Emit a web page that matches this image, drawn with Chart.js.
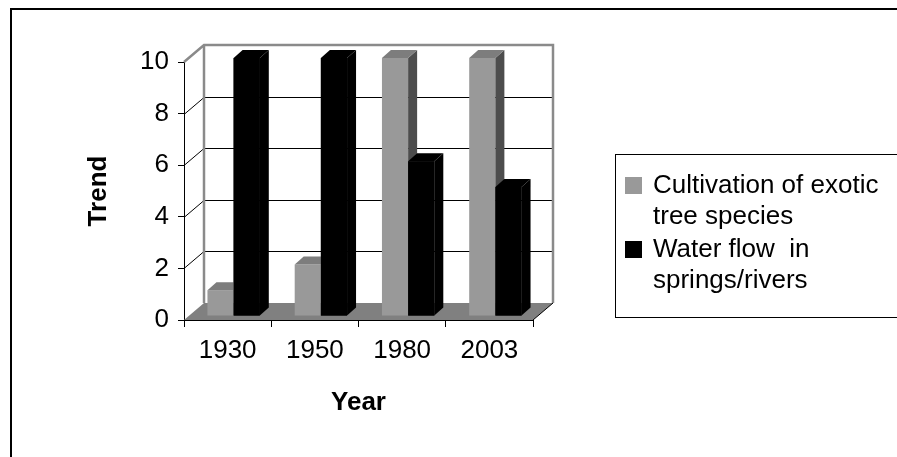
<!DOCTYPE html>
<html>
<head>
<meta charset="utf-8">
<script src="https://cdn.jsdelivr.net/npm/chart.js@4/dist/chart.umd.min.js"></script>
<style>
    body { margin: 0; background: #fff; }
    #wrap { position: relative; width: 897px; height: 457px; overflow: hidden; }
    #frame { position: absolute; left: 10px; top: 8px; width: 1000px; height: 600px; border: 2px solid #000; box-sizing: border-box; }
    canvas { position: absolute; left: 0; top: 0; }
</style>
</head>
<body>
<div id="wrap">
    <div id="frame"></div>
    <canvas id="trendChart" width="897" height="457"></canvas>
</div>
<script>
const years = ['1930', '1950', '1980', '2003'];
const exoticTrees = [1, 2, 10, 10];
const waterFlow = [10, 10, 6, 5];
const exoticLabel = ['Cultivation of exotic', 'tree species'];
const waterLabel = ['Water flow  in', 'springs/rivers'];
const yMax = 10;
const yStep = 2;

// 3D look (pixel offsets of the fake perspective)
const WALL_DX = 20, WALL_DY = -17;
const BAR_DX = 6, BAR_DY = -4;
const FACE_DX = 9, FACE_DY = -8;
const FONT = '"Liberation Sans", Arial, sans-serif';

function drawFaces(ctx, meta, ds) {
    meta.data.forEach(bar => {
        const { x, y, base, width } = bar.getProps(['x', 'y', 'base', 'width'], true);
        const l = x - width / 2, r = x + width / 2;
        // side
        ctx.fillStyle = ds.sideColor;
        ctx.beginPath();
        ctx.moveTo(r, y);
        ctx.lineTo(r + FACE_DX, y + FACE_DY);
        ctx.lineTo(r + FACE_DX, base + FACE_DY);
        ctx.lineTo(r, base);
        ctx.closePath();
        ctx.fill();
        // top
        ctx.fillStyle = ds.topColor;
        ctx.beginPath();
        ctx.moveTo(l, y);
        ctx.lineTo(r, y);
        ctx.lineTo(r + FACE_DX, y + FACE_DY);
        ctx.lineTo(l + FACE_DX, y + FACE_DY);
        ctx.closePath();
        ctx.fill();
    });
}

const depth3d = {
    id: 'depth3d',
    beforeDatasetsDraw(chart) {
        const { ctx, chartArea: a, scales: { y } } = chart;
        ctx.save();
        // floor
        ctx.fillStyle = '#808080';
        ctx.beginPath();
        ctx.moveTo(a.left, a.bottom);
        ctx.lineTo(a.right, a.bottom);
        ctx.lineTo(a.right + WALL_DX, a.bottom + WALL_DY);
        ctx.lineTo(a.left + WALL_DX, a.bottom + WALL_DY);
        ctx.closePath();
        ctx.fill();

        // gridlines on side + back wall
        ctx.strokeStyle = '#000';
        ctx.lineWidth = 1;
        y.ticks.forEach(t => {
            if (t.value <= y.min || t.value >= y.max) return;
            const py = Math.round(y.getPixelForValue(t.value)) + 0.5;
            ctx.beginPath();
            ctx.moveTo(a.left, py);
            ctx.lineTo(a.left + WALL_DX, py + WALL_DY);
            ctx.lineTo(a.right + WALL_DX, py + WALL_DY);
            ctx.stroke();
        });

        // wall edges
        ctx.strokeStyle = '#8a8a8a';
        ctx.lineWidth = 2.5;
        ctx.beginPath();
        ctx.moveTo(a.left, a.top);
        ctx.lineTo(a.left + WALL_DX, a.top + WALL_DY);
        ctx.lineTo(a.right + WALL_DX, a.top + WALL_DY);
        ctx.lineTo(a.right + WALL_DX, a.bottom + WALL_DY);
        ctx.moveTo(a.left + WALL_DX, a.top + WALL_DY);
        ctx.lineTo(a.left + WALL_DX, a.bottom + WALL_DY);
        ctx.stroke();

        // right floor edge
        ctx.strokeStyle = '#000';
        ctx.lineWidth = 1;
        ctx.beginPath();
        ctx.moveTo(a.right, a.bottom);
        ctx.lineTo(a.right + WALL_DX, a.bottom + WALL_DY);
        ctx.stroke();
        ctx.restore();
    },
    beforeDatasetDraw(chart) {
        chart.ctx.save();
        chart.ctx.translate(BAR_DX, BAR_DY);
    },
    afterDatasetDraw(chart) {
        chart.ctx.restore();
    },
    afterDatasetsDraw(chart) {
        // faces, back series first; later series fronts are redrawn over them
        const ctx = chart.ctx;
        ctx.save();
        ctx.translate(BAR_DX, BAR_DY);
        chart.data.datasets.forEach((ds, i) => {
            const meta = chart.getDatasetMeta(i);
            if (i > 0) meta.data.forEach(bar => bar.draw(ctx));
            drawFaces(ctx, meta, ds);
        });
        ctx.restore();
    },
    afterDraw(chart) {
        // legend with wrapped labels
        const ctx = chart.ctx;
        ctx.save();
        ctx.strokeStyle = '#000';
        ctx.lineWidth = 1;
        ctx.strokeRect(615.5, 154.5, 320, 163);
        ctx.font = '26px ' + FONT;
        ctx.textBaseline = 'alphabetic';
        let base = 193;
        chart.data.datasets.forEach(ds => {
            ctx.fillStyle = ds.backgroundColor;
            ctx.fillRect(625, base - 16, 17, 17);
            ctx.fillStyle = '#000';
            ds.label.forEach((line, i) => {
                ctx.fillText(line, 653, base + i * 31);
            });
            base += 31 * ds.label.length + 2;
        });
        ctx.restore();
    }
};

const ctx = document.getElementById('trendChart').getContext('2d');

new Chart(ctx, {
    type: 'bar',
    data: {
        labels: years,
        datasets: [{
            label: exoticLabel,
            data: exoticTrees,
            backgroundColor: '#999999',
            topColor: '#7d7d7d',
            sideColor: '#4d4d4d',
            clip: false
        }, {
            label: waterLabel,
            data: waterFlow,
            backgroundColor: '#000000',
            topColor: '#000000',
            sideColor: '#000000',
            clip: false
        }]
    },
    options: {
        responsive: false,
        animation: false,
        categoryPercentage: 0.6,
        barPercentage: 1.0,
        layout: { padding: { left: 0, top: 62, right: 364, bottom: 0 } },
        plugins: {
            legend: { display: false },
            tooltip: { enabled: false }
        },
        scales: {
            x: {
                afterFit: (s) => { s.height = 137; },
                grid: { drawOnChartArea: false, drawTicks: true, tickLength: 7, color: '#000' },
                border: { display: true, color: '#000', width: 1 },
                ticks: { color: '#000', font: { family: FONT, size: 26 }, padding: 8 },
                title: {
                    display: true, text: 'Year', color: '#000',
                    font: { family: FONT, size: 26, weight: 'bold' },
                    padding: { top: 0, bottom: 39 }
                }
            },
            y: {
                min: 0,
                max: yMax,
                afterFit: (s) => { s.width = 184; },
                grid: { drawOnChartArea: false, drawTicks: true, tickLength: 6, color: '#000' },
                border: { display: true, color: '#000', width: 1 },
                ticks: { stepSize: yStep, color: '#000', font: { family: FONT, size: 26 }, padding: 9 },
                title: {
                    display: true, text: 'Trend', color: '#000',
                    font: { family: FONT, size: 26, weight: 'bold' },
                    padding: { top: 83, bottom: 0 }
                }
            }
        }
    },
    plugins: [depth3d]
});
</script>
</body>
</html>
